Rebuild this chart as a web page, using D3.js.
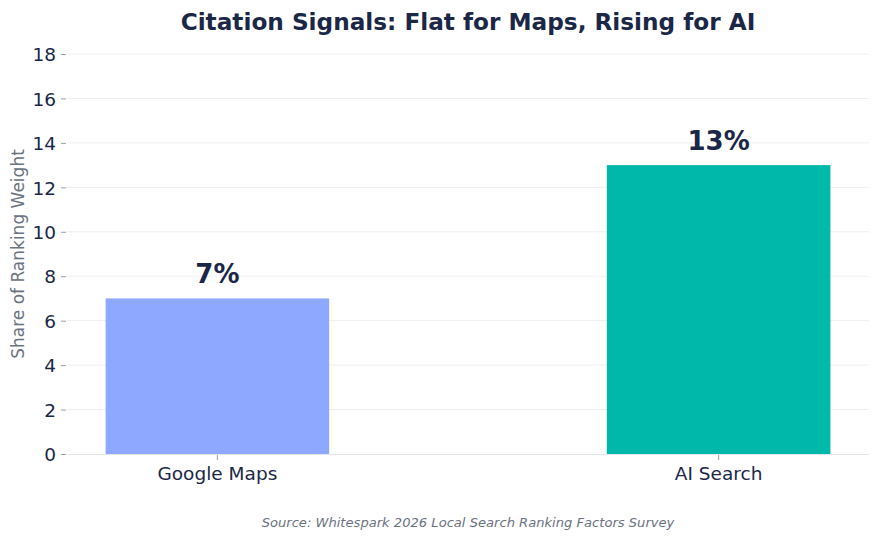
<!DOCTYPE html>
<html>
<head>
<meta charset="utf-8">
<script src="https://cdn.jsdelivr.net/npm/d3@7"></script>
<style>
  body { margin: 0; background: #fff; }
  text { font-family: "DejaVu Sans", sans-serif; }
</style>
</head>
<body>
<script>
// chart data
var categories = ["Google Maps", "AI Search"];
var values = [7, 13];
var valueLabels = ["7%", "13%"];
var barColors = ["#8fa8ff", "#00b8a9"];
var yTicks = [0, 2, 4, 6, 8, 10, 12, 14, 16, 18];

var W = 880, H = 540;
// plot box (note: "top" is taken by window.top, so prefix these)
var pLeft = 67, pRight = 869, pTop = 54, pBottom = 454;
var navy = "#1b2747";

var svg = d3.select("body").append("svg")
  .attr("width", W)
  .attr("height", H);

var y = d3.scaleLinear().domain([0, 18]).range([pBottom, pTop]);
// category positions 0,1 with matplotlib-like margins
var x = d3.scaleLinear().domain([-0.3, 1.3]).range([pLeft, pRight]);
var barW = 0.446;

// gridlines
svg.append("g").selectAll("line")
  .data(yTicks.slice(1))
  .enter().append("line")
  .attr("x1", pLeft).attr("x2", pRight)
  .attr("y1", function(d){ return y(d); })
  .attr("y2", function(d){ return y(d); })
  .attr("stroke", "#efeff1")
  .attr("stroke-width", 1);

// y axis
var yAxis = d3.axisLeft(y).tickValues(yTicks).tickSize(5).tickPadding(5);
var gy = svg.append("g").attr("transform", "translate(" + (pLeft - 1) + ",0)").call(yAxis);
gy.select(".domain").remove();
gy.selectAll(".tick line").attr("stroke", "#9a9fa8");
gy.selectAll(".tick text")
  .attr("fill", navy)
  .style("font-size", "18.5px")
  .attr("dy", "0.36em");

// bars
svg.append("g").selectAll("rect")
  .data(values)
  .enter().append("rect")
  .attr("x", function(d, i){ return x(i - barW / 2); })
  .attr("width", function(){ return x(barW) - x(0); })
  .attr("y", function(d){ return y(d); })
  .attr("height", function(d){ return y(0) - y(d); })
  .attr("fill", function(d, i){ return barColors[i]; });

// bottom axis line
svg.append("line")
  .attr("x1", pLeft).attr("x2", pRight)
  .attr("y1", pBottom + 0.5).attr("y2", pBottom + 0.5)
  .attr("stroke", "#e3e5ea").attr("stroke-width", 1.2);

// x ticks and labels
var xg = svg.append("g").selectAll("g")
  .data(categories)
  .enter().append("g")
  .attr("transform", function(d, i){ return "translate(" + x(i) + "," + pBottom + ")"; });
xg.append("line").attr("y1", 1).attr("y2", 6).attr("stroke", "#9a9fa8");
xg.append("text")
  .attr("y", 26)
  .attr("text-anchor", "middle")
  .attr("fill", navy)
  .style("font-size", "18.5px")
  .text(function(d){ return d; });

// value labels
svg.append("g").selectAll("text")
  .data(values)
  .enter().append("text")
  .attr("x", function(d, i){ return x(i); })
  .attr("y", function(d){ return y(d) - 15; })
  .attr("text-anchor", "middle")
  .attr("fill", navy)
  .style("font-size", "26px")
  .style("font-weight", "bold")
  .text(function(d, i){ return valueLabels[i]; });

// title
svg.append("text")
  .attr("x", (pLeft + pRight) / 2)
  .attr("y", 30)
  .attr("text-anchor", "middle")
  .attr("fill", navy)
  .style("font-size", "23.2px")
  .style("font-weight", "bold")
  .text("Citation Signals: Flat for Maps, Rising for AI");

// y label
svg.append("text")
  .attr("transform", "translate(24," + ((pTop + pBottom) / 2) + ") rotate(-90)")
  .attr("text-anchor", "middle")
  .attr("fill", "#6b7280")
  .style("font-size", "17px")
  .text("Share of Ranking Weight");

// source
svg.append("text")
  .attr("x", 468)
  .attr("y", 527)
  .attr("text-anchor", "middle")
  .attr("fill", "#6b7280")
  .style("font-size", "13.1px")
  .style("font-style", "italic")
  .text("Source: Whitespark 2026 Local Search Ranking Factors Survey");
</script>
</body>
</html>
